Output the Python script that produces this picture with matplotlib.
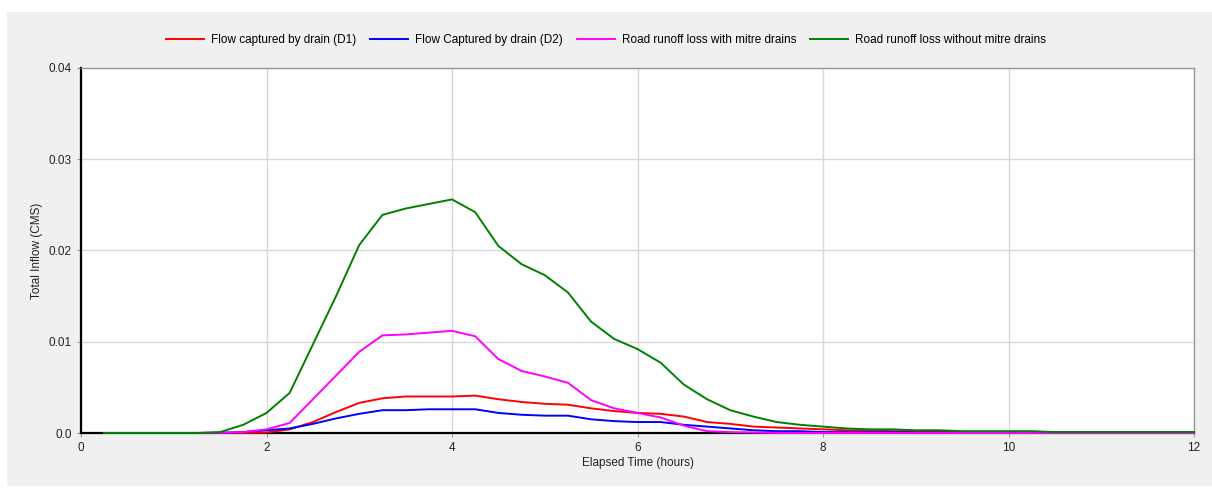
import matplotlib
matplotlib.use("Agg")
import matplotlib.pyplot as plt
from matplotlib.patches import Rectangle

plt.rcParams['font.family'] = ['Liberation Sans', 'DejaVu Sans']

# time steps every 15 minutes, 0.25 .. 12 h
hours = [0.25 * i for i in range(1, 49)]

# Flow captured by drain (D1)  (12 values per row = 3 hours)
d1 = [0, 0, 0, 0, 0, 0, 0, 0.00005, 0.0004, 0.0012, 0.0023, 0.0033,
      0.0038, 0.0040, 0.0040, 0.0040, 0.0041, 0.0037, 0.0034, 0.0032, 0.0031, 0.0027, 0.0024, 0.0022,
      0.0021, 0.0018, 0.0012, 0.0010, 0.0007, 0.0006, 0.0005, 0.0004, 0.0003, 0.0003, 0.0002, 0.0002,
      0.0002, 0.0001, 0.0001, 0.0001, 0.0001, 0.0001, 0.0001, 0.0001, 0.0001, 0.0001, 0.0001, 0.0001]

# Flow Captured by drain (D2)
d2 = [0, 0, 0, 0, 0, 0.00002, 0.0001, 0.0003, 0.0005, 0.0010, 0.0016, 0.0021,
      0.0025, 0.0025, 0.0026, 0.0026, 0.0026, 0.0022, 0.0020, 0.0019, 0.0019, 0.0015, 0.0013, 0.0012,
      0.0012, 0.0009, 0.0007, 0.0005, 0.0003, 0.0002, 0.0002, 0.0001, 0.0001, 0.0001, 0.0001, 0.00005,
      0.00005, 0.00005, 0.00005, 0.00005, 0.00005, 0.00005, 0.00005, 0.00005, 0.00005, 0.00005, 0.00005, 0.00005]

# Road runoff loss with mitre drains
mitre = [0, 0, 0, 0, 0, 0.00002, 0.0001, 0.0004, 0.0011, 0.0037, 0.0063, 0.0089,
         0.0107, 0.0108, 0.0110, 0.0112, 0.0106, 0.0081, 0.0068, 0.0062, 0.0055, 0.0036, 0.0027, 0.0022,
         0.0017, 0.0008, 0.0002, 0.0001, 0.00005, 0, 0, 0, 0, 0, 0, 0,
         0, 0, 0, 0, 0, 0, 0, 0, 0, 0, 0, 0]

# Road runoff loss without mitre drains
no_mitre = [0, 0, 0, 0, 0, 0.0001, 0.0009, 0.0022, 0.0044, 0.0097, 0.0150, 0.0206,
            0.0239, 0.0246, 0.0251, 0.0256, 0.0242, 0.0205, 0.0185, 0.0173, 0.0154, 0.0122, 0.0103, 0.0092,
            0.0077, 0.0053, 0.0037, 0.0025, 0.0018, 0.0012, 0.0009, 0.0007, 0.0005, 0.0004, 0.0004, 0.0003,
            0.0003, 0.0002, 0.0002, 0.0002, 0.0002, 0.0001, 0.0001, 0.0001, 0.0001, 0.0001, 0.0001, 0.0001]

labels = ["Flow captured by drain (D1)", "Flow Captured by drain (D2)",
          "Road runoff loss with mitre drains", "Road runoff loss without mitre drains"]
colors = ["#ff0000", "#0000ff", "#ff00ff", "#008000"]

xticks = [0, 2, 4, 6, 8, 10, 12]
yticks = [0.0, 0.01, 0.02, 0.03, 0.04]
ytick_labels = ["0.0", "0.01", "0.02", "0.03", "0.04"]

fig = plt.figure(figsize=(12.12, 4.88), dpi=100)
fig.patch.set_facecolor("white")
# grey panel behind everything
panel = Rectangle((7 / 1212, 2 / 488), 1205 / 1212, 474 / 488,
                  transform=fig.transFigure, facecolor="#f0f0f0",
                  edgecolor="none", zorder=-10)
fig.patches.append(panel)

ax = fig.add_axes([81 / 1212, (488 - 433) / 488, (1194 - 81) / 1212, (433 - 68) / 488])
ax.set_facecolor("white")

# lines sit on top of the axis frame like the original
for series, lab, col in zip([d1, d2, mitre, no_mitre], labels, colors):
    ax.plot(hours, series, color=col, lw=1.4, label=lab, zorder=3, clip_on=False)

ax.set_xlim(0, 12)
ax.set_ylim(0, 0.04)
ax.set_xticks(xticks)
ax.set_xticklabels([str(t) for t in xticks])
ax.set_yticks(yticks)
ax.set_yticklabels(ytick_labels)
ax.grid(True, color="#d8d8d8", lw=1)
ax.set_axisbelow(True)
ax.tick_params(labelsize=8.5, length=3, color="#999999", labelcolor="#222222")

for side in ["top", "right"]:
    ax.spines[side].set_color("#999999")
    ax.spines[side].set_linewidth(1.0)
for side in ["left", "bottom"]:
    ax.spines[side].set_color("black")
    ax.spines[side].set_linewidth(1.6)

ax.set_xlabel("Elapsed Time (hours)", fontsize=8.5, color="#222222", labelpad=2)
ax.set_ylabel("Total Inflow (CMS)", fontsize=8.5, color="#222222", labelpad=2)
ax.yaxis.set_label_coords(-38 / 1113, 0.5)

fig.legend(loc="center", bbox_to_anchor=(0.5, 1 - 40 / 488), ncol=4, frameon=False,
           fontsize=8.5, handlelength=3.2, columnspacing=1.2, handletextpad=0.6)

fig.savefig("out.png", dpi=100, facecolor=fig.get_facecolor())
